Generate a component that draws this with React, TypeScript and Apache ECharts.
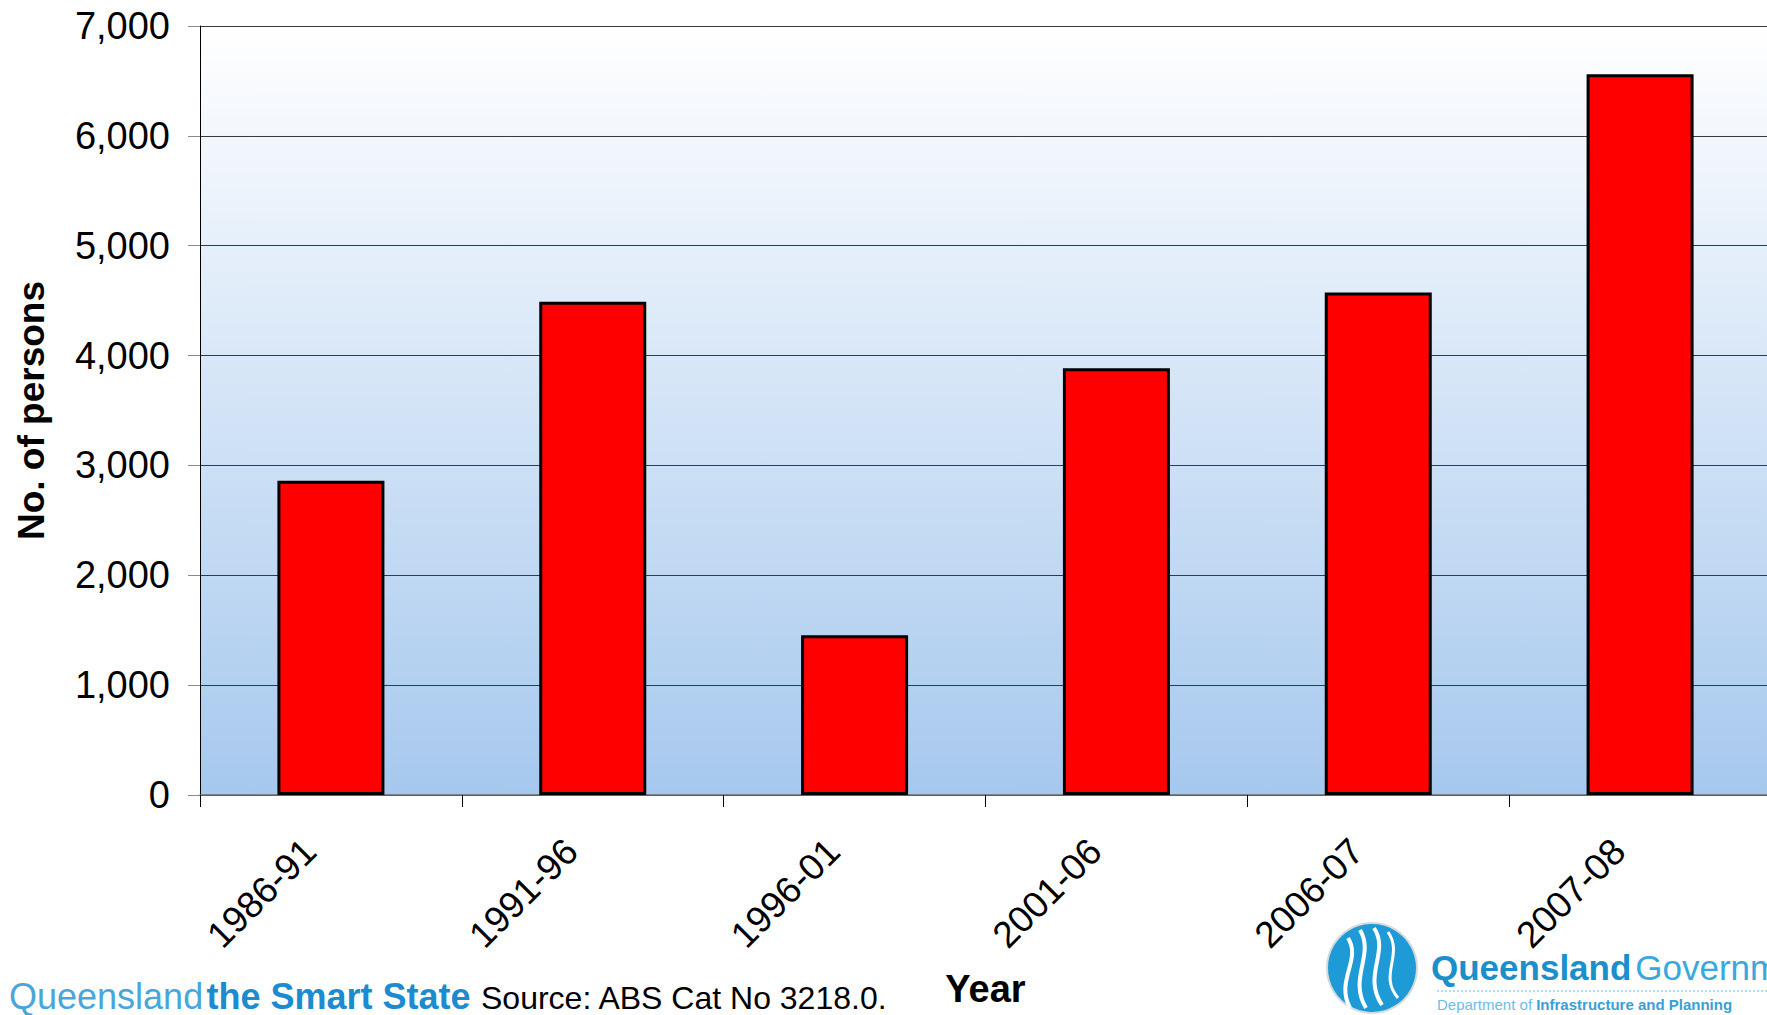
import React, { useEffect, useRef } from "react";
import * as echarts from "echarts";

const categories = ["1986-91", "1991-96", "1996-01", "2001-06", "2006-07", "2007-08"];
const persons = [2860, 4490, 1455, 3885, 4575, 6560];
const yMin = 0;
const yMax = 7000;
const yStep = 1000;
const yTitle = "No. of persons";
const xTitle = "Year";
const sourceNote = "Source: ABS Cat No 3218.0.";

const FONT = "'Liberation Sans', Arial, sans-serif";

export default function App() {
  const ref = useRef<HTMLDivElement>(null);
  useEffect(() => {
    if (!ref.current) return;
    const chart = echarts.init(ref.current, null, { renderer: "svg" });
    const option: any = {
      animation: false,
      backgroundColor: "#ffffff",
      grid: {
        left: 200,
        top: 26,
        width: 1571,
        height: 769,
        outerBoundsMode: "none",
        containLabel: false,
        show: true,
        borderWidth: 0,
        backgroundColor: new echarts.graphic.LinearGradient(0, 0, 0, 1, [
          { offset: 0, color: "#ffffff" },
          { offset: 1, color: "#a6c8ee" },
        ]),
      },
      xAxis: {
        type: "category",
        data: categories,
        name: xTitle,
        nameLocation: "middle",
        nameGap: 175,
        nameTextStyle: { fontFamily: FONT, fontSize: 38, fontWeight: "bold", color: "#000" },
        axisLine: { show: true, lineStyle: { color: "#6e6e6e", width: 1.5 } },
        axisTick: { show: true, length: 12, lineStyle: { color: "#000", width: 1 } },
        axisLabel: {
          rotate: 45,
          margin: 29,
          padding: [0, 30, 0, 0],
          fontFamily: FONT,
          fontSize: 37,
          color: "#000",
        },
      },
      yAxis: {
        type: "value",
        min: yMin,
        max: yMax,
        interval: yStep,
        name: yTitle,
        nameLocation: "middle",
        nameRotate: 90,
        nameGap: 150,
        nameTextStyle: { fontFamily: FONT, fontSize: 37, fontWeight: "bold", color: "#000" },
        axisLine: { show: true, lineStyle: { color: "#000", width: 1 } },
        axisTick: { show: true, length: 12, lineStyle: { color: "#8a8a8a", width: 1 } },
        splitLine: { show: true, lineStyle: { color: "#3a3a3a", width: 1 } },
        axisLabel: {
          margin: 30,
          fontFamily: FONT,
          fontSize: 38,
          color: "#000",
          formatter: (v: number) => v.toLocaleString("en-US"),
        },
      },
      series: [
        {
          type: "bar",
          data: persons,
          barWidth: 107,
          itemStyle: { color: "#ff0000", borderColor: "#000000", borderWidth: 3 },
        },
      ],
      graphic: [
        {
          type: "text",
          left: 9,
          top: 978,
          style: {
            text: "{a|Queensland} {b|the Smart State}",
            rich: {
              a: { fontFamily: FONT, fontSize: 36, fill: "#4aa6da" },
              b: { fontFamily: FONT, fontSize: 36, fontWeight: "bold", fill: "#1c8bcf" },
            },
          },
        },
        {
          type: "text",
          left: 481,
          top: 982,
          style: { text: sourceNote, fontFamily: FONT, fontSize: 32, fill: "#000" },
        },
        {
          type: "circle",
          shape: { cx: 1372, cy: 968, r: 45 },
          style: { fill: "#1e9bd7", stroke: "#d5dadd", lineWidth: 2 },
        },
        {
          type: "bezierCurve",
          shape: { x1: 1348, y1: 938, cpx1: 1362, cpy1: 960, cpx2: 1335, cpy2: 980, x2: 1350, y2: 1008 },
          style: { stroke: "#ffffff", lineWidth: 4, fill: null },
        },
        {
          type: "bezierCurve",
          shape: { x1: 1360, y1: 930, cpx1: 1375, cpy1: 955, cpx2: 1348, cpy2: 978, x2: 1366, y2: 1008 },
          style: { stroke: "#ffffff", lineWidth: 4, fill: null },
        },
        {
          type: "bezierCurve",
          shape: { x1: 1374, y1: 928, cpx1: 1390, cpy1: 952, cpx2: 1362, cpy2: 975, x2: 1382, y2: 1005 },
          style: { stroke: "#ffffff", lineWidth: 4, fill: null },
        },
        {
          type: "bezierCurve",
          shape: { x1: 1388, y1: 932, cpx1: 1404, cpy1: 955, cpx2: 1378, cpy2: 975, x2: 1398, y2: 998 },
          style: { stroke: "#ffffff", lineWidth: 3, fill: null },
        },
        {
          type: "text",
          left: 1431,
          top: 950,
          style: {
            text: "{q|Queensland}{g|Governme}",
            rich: {
              q: { fontFamily: FONT, fontSize: 35, fontWeight: "bold", fill: "#1a8fca" },
              g: { fontFamily: FONT, fontSize: 35, fill: "#3aa8de", padding: [0, 0, 0, 4] },
            },
          },
        },
        {
          type: "line",
          shape: { x1: 1437, y1: 991, x2: 1767, y2: 991 },
          style: { stroke: "#9fd0ee", lineWidth: 1.5, lineDash: [2, 2] },
        },
        {
          type: "text",
          left: 1437,
          top: 997,
          style: {
            text: "{d|Department of }{i|Infrastructure and Planning}",
            rich: {
              d: { fontFamily: FONT, fontSize: 15, fill: "#6cbde6" },
              i: { fontFamily: FONT, fontSize: 15, fontWeight: "bold", fill: "#3a9fd6" },
            },
          },
        },
      ],
    };
    chart.setOption(option);
    return () => chart.dispose();
  }, []);
  return (
    <div
      ref={ref}
      style={{ position: "absolute", left: 0, top: 0, width: 1767, height: 1015 }}
    />
  );
}
